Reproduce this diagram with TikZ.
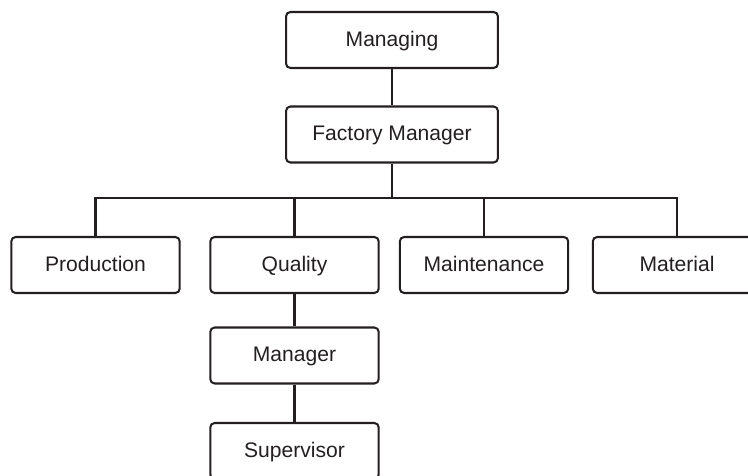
\documentclass[tikz,border=0pt]{standalone}
\usepackage{fontspec}
\setmainfont{Liberation Sans}
\usepackage{tikz}
\usetikzlibrary{calc,positioning}
\definecolor{ink}{HTML}{231F20}

\begin{document}
\begin{tikzpicture}[x=0.02cm,y=-0.02cm,
    box/.style={draw=ink,line width=1.15pt,rounded corners=2.5pt,
      text=ink,font=\fontsize{12}{14}\selectfont,
      text height=8.6pt,text depth=1.7pt,
      minimum height=1.12cm,inner sep=0pt},
    wide/.style={box,minimum width=4.24cm},
    unit/.style={box,minimum width=3.37cm},
    link/.style={draw=ink,line width=1.15pt}]
  % Configurable parameters
  \def\busy{198}
  \def\rowy{265}
  %
  % Frame
  \useasboundingbox (0,0) rectangle (748,476);
  \clip (0,0) rectangle (748,476);
  %
  % Top of the chart
  \node[wide] (managing) at (392,40) {Managing};
  \node[wide] (factory) at (392,134.5) {Factory Manager};
  %
  % Departments
  \node[unit] (production) at (95.5,\rowy) {Production};
  \node[unit] (quality) at (294.5,\rowy) {Quality};
  \node[unit] (maintenance) at (484,\rowy) {Maintenance};
  \node[unit] (material) at (677,\rowy) {Material};
  %
  % Quality branch
  \node[unit] (manager) at (294.5,355.5) {Manager};
  \node[unit] (supervisor) at (294.5,451) {Supervisor};
  %
  % Connecting lines
  \coordinate (bus) at (factory.south |- 0,\busy);
  \draw[link] (managing) -- (factory);
  \draw[link] (factory) -- (bus);
  \draw[link] (production.north) |- (bus) -| (material.north);
  \draw[link] (quality.north) -- (quality.north |- bus);
  \draw[link] (maintenance.north) -- (maintenance.north |- bus);
  \draw[link] (quality) -- (manager);
  \draw[link] (manager) -- (supervisor);
  %
\end{tikzpicture}
\end{document}
